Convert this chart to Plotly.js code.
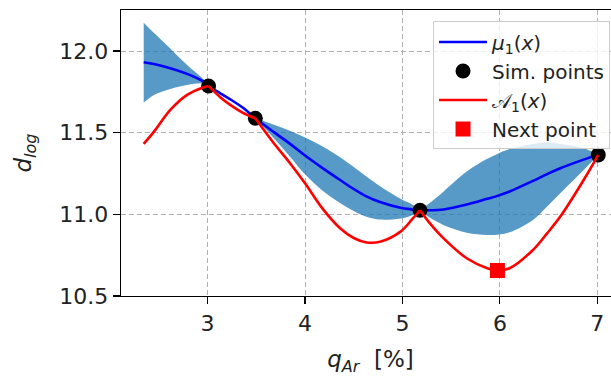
<!DOCTYPE html>
<html>
<head>
<meta charset="utf-8">
<script src="https://cdn.plot.ly/plotly-3.0.1.min.js"></script>
<style>
html,body{margin:0;padding:0;overflow:hidden;background:#fff;width:611px;height:376px}
#chart{width:640px;height:376px}
</style>
</head>
<body>
<div id="chart"></div>
<script>
// ---- data ----
const xGrid = [2.344, 2.45, 2.617, 2.79, 2.96, 3.01, 3.13, 3.233, 3.37, 3.49,
               3.68, 3.85, 4.0, 4.18, 4.36, 4.5, 4.63, 4.77, 4.98, 5.1, 5.18,
               5.28, 5.42, 5.66, 5.87, 5.975, 6.1, 6.34, 6.48, 6.62, 6.86, 7.01];
const muVals = [11.931, 11.92, 11.895, 11.86, 11.812, 11.786, 11.741, 11.704, 11.649, 11.588,
                11.503, 11.43, 11.36, 11.283, 11.21, 11.155, 11.11, 11.075, 11.04, 11.03, 11.025,
                11.025, 11.03, 11.06, 11.095, 11.113, 11.14, 11.205, 11.245, 11.282, 11.335, 11.364];
const upperVals = [12.173, 12.11, 12.016, 11.914, 11.825, 11.79, 11.746, 11.709, 11.654, 11.59,
                   11.548, 11.51, 11.47, 11.415, 11.35, 11.29, 11.232, 11.172, 11.095, 11.06, 11.028,
                   11.07, 11.139, 11.262, 11.34, 11.37, 11.40, 11.431, 11.442, 11.431, 11.405, 11.366];
const lowerVals = [11.684, 11.731, 11.767, 11.792, 11.8, 11.782, 11.736, 11.699, 11.644, 11.586,
                   11.466, 11.35, 11.245, 11.145, 11.07, 11.02, 10.985, 10.968, 10.975, 10.995, 11.022,
                   10.98, 10.935, 10.888, 10.874, 10.875, 10.89, 10.966, 11.045, 11.129, 11.272, 11.362];
const acqVals = [11.431, 11.506, 11.639, 11.731, 11.778, 11.786, 11.717, 11.67, 11.619, 11.588,
                 11.435, 11.31, 11.19, 11.035, 10.915, 10.855, 10.828, 10.832, 10.894, 10.97, 11.025,
                 10.946, 10.854, 10.731, 10.67, 10.656, 10.67, 10.782, 10.88, 10.986, 11.21, 11.364];
const simX = [3.01, 3.49, 5.18, 7.01];
const simY = [11.786, 11.588, 11.025, 11.364];
const nextX = [5.975];
const nextY = [10.656];
const xTicks = [3, 4, 5, 6, 7];
const yTicks = [10.5, 11.0, 11.5, 12.0];
const yTickText = ['10.5', '11.0', '11.5', '12.0'];
const legendNames = ['<i>μ</i><sub>1</sub>(<i>x</i>)', 'Sim. points', '𝒜<sub>1</sub>(<i>x</i>)', 'Next point'];

// split into segments at the simulated points (the band and A1 have kinks there)
const breakIdx = [0].concat(simX.map(v => xGrid.indexOf(v)));
const segs = [];
for (let k = 0; k < breakIdx.length - 1; k++) segs.push([breakIdx[k], breakIdx[k + 1] + 1]);

const traces = [];
const bandColor = 'rgba(31,119,180,0.75)';
segs.forEach(([a, b]) => {
  const xs = xGrid.slice(a, b);
  traces.push({x: xs, y: lowerVals.slice(a, b), type: 'scatter', mode: 'lines',
    line: {width: 0, shape: 'spline', smoothing: 1}, showlegend: false, hoverinfo: 'skip'});
  traces.push({x: xs, y: upperVals.slice(a, b), type: 'scatter', mode: 'lines', fill: 'tonexty',
    fillcolor: bandColor, line: {width: 0, shape: 'spline', smoothing: 1}, showlegend: false, hoverinfo: 'skip'});
});
traces.push({x: xGrid, y: muVals, type: 'scatter', mode: 'lines', name: legendNames[0],
  line: {color: '#0000ff', width: 2.6, shape: 'spline', smoothing: 1}});
traces.push({x: simX, y: simY, type: 'scatter', mode: 'markers', name: legendNames[1],
  marker: {color: '#000000', size: 15, symbol: 'circle'}});
segs.forEach(([a, b], i) => {
  traces.push({x: xGrid.slice(a, b), y: acqVals.slice(a, b), type: 'scatter', mode: 'lines',
    name: legendNames[2], legendgroup: 'acq', showlegend: i === 0,
    line: {color: '#ff0000', width: 2.6, shape: 'spline', smoothing: 1}});
});
traces.push({x: nextX, y: nextY, type: 'scatter', mode: 'markers', name: legendNames[3],
  marker: {color: '#ff0000', size: 15, symbol: 'square'}});

const axisCommon = {
  showgrid: true, gridcolor: '#b0b0b0', gridwidth: 1, griddash: '5px,3px',
  showline: true, linecolor: '#000', linewidth: 1.3, mirror: true,
  ticks: 'outside', ticklen: 7, tickwidth: 1.2, tickcolor: '#000',
  tickfont: {size: 22, color: '#222'}, zeroline: false
};

const layout = {
  width: 640, height: 376,
  margin: {l: 121, r: 20, t: 10, b: 80},
  paper_bgcolor: '#fff', plot_bgcolor: '#fff',
  font: {family: 'DejaVu Sans', color: '#222'},
  xaxis: Object.assign({}, axisCommon, {
    range: [2.111, 7.233], tickvals: xTicks,
    title: {text: '<i>q</i><sub><i>Ar</i></sub>  [%]', font: {size: 23}, standoff: 16}
  }),
  yaxis: Object.assign({}, axisCommon, {
    range: [10.5, 12.251], tickvals: yTicks, ticktext: yTickText,
    title: {text: '<i>d</i><sub><i>log</i></sub>', font: {size: 23}, standoff: 21}
  }),
  legend: {x: 0.98, xanchor: 'right', y: 0.96, yanchor: 'top',
           bgcolor: 'rgba(255,255,255,0.8)', bordercolor: '#cccccc', borderwidth: 1,
           font: {size: 20, color: '#222'}, tracegroupgap: 0, itemwidth: 48},
  showlegend: true
};

Plotly.newPlot('chart', traces, layout, {displayModeBar: false, staticPlot: true});
</script>
</body>
</html>
